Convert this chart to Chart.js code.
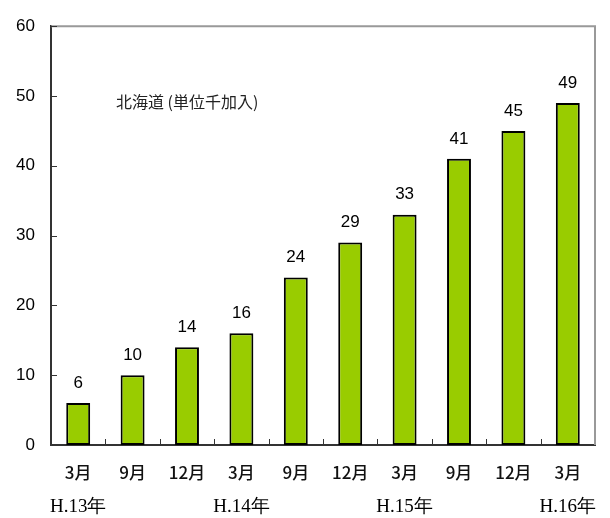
<!DOCTYPE html>
<html>
<head>
<meta charset="utf-8">
<script src="https://cdn.jsdelivr.net/npm/chart.js@4/dist/chart.umd.min.js"></script>
<style>
  body { margin: 0; background: #fff; }
  #wrap { width: 610px; height: 518px; }
</style>
</head>
<body>
<div id="wrap"><canvas id="c"></canvas></div>
<script>
const months = ['3月', '9月', '12月', '3月', '9月', '12月', '3月', '9月', '12月', '3月'];
const years = ['H.13年', '', '', 'H.14年', '', '', 'H.15年', '', '', 'H.16年'];
const subscribers = [6, 10, 14, 16, 24, 29, 33, 41, 45, 49];
const yTicks = [0, 10, 20, 30, 40, 50, 60];

// value labels, inner tick marks, frame and the note text
const extras = {
    id: 'extras',
    afterDatasetsDraw(chart) {
        const ctx = chart.ctx;
        const area = chart.chartArea;
        const x = chart.scales.x;
        const y = chart.scales.y;

        ctx.save();
        // top and right frame lines
        ctx.strokeStyle = '#999';
        ctx.lineWidth = 2;
        ctx.beginPath();
        ctx.moveTo(area.left, area.top);
        ctx.lineTo(area.right, area.top);
        ctx.lineTo(area.right, area.bottom);
        ctx.stroke();

        // inward ticks
        ctx.strokeStyle = '#333';
        ctx.lineWidth = 1;
        ctx.beginPath();
        yTicks.forEach(v => {
            const py = Math.round(y.getPixelForValue(v)) + 0.5;
            ctx.moveTo(area.left, py);
            ctx.lineTo(area.left + 6, py);
        });
        for (let i = 1; i < months.length; i++) {
            const px = Math.round((x.getPixelForValue(i - 1) + x.getPixelForValue(i)) / 2) + 0.5;
            ctx.moveTo(px, area.bottom);
            ctx.lineTo(px, area.bottom - 6);
        }
        ctx.stroke();

        // values above bars
        ctx.fillStyle = '#000';
        ctx.font = '17px "Liberation Sans", Arial, sans-serif';
        ctx.textAlign = 'center';
        ctx.textBaseline = 'middle';
        chart.getDatasetMeta(0).data.forEach((bar, i) => {
            ctx.fillText(String(subscribers[i]), bar.x, bar.y - 20);
        });

        // note
        ctx.fillStyle = '#222';
        ctx.font = '16px "Noto Sans CJK JP", sans-serif';
        ctx.textAlign = 'left';
        ctx.fillText('北海道 (単位千加入)', 116, 102);
        ctx.restore();
    }
};

new Chart(document.getElementById('c'), {
    type: 'bar',
    data: {
        labels: months,
        datasets: [{
            data: subscribers,
            backgroundColor: '#99cc00',
            borderColor: '#000',
            borderWidth: 2,
            borderSkipped: false,
            barPercentage: 0.44,
            categoryPercentage: 1
        }]
    },
    options: {
        responsive: true,
        maintainAspectRatio: false,
        animation: false,
        layout: { padding: { top: 19, right: 15, left: 0, bottom: 0 } },
        plugins: {
            legend: { display: false },
            tooltip: { enabled: false }
        },
        scales: {
            y: {
                min: 0,
                max: 60,
                afterBuildTicks: s => { s.ticks = yTicks.map(v => ({ value: v })); },
                afterFit: s => { s.width = 51; },
                grid: { display: false, drawTicks: false },
                border: { color: '#333', width: 2 },
                ticks: {
                    padding: 16,
                    color: '#000',
                    font: { family: '"Liberation Sans", Arial, sans-serif', size: 17 }
                }
            },
            x: {
                afterFit: s => { s.height = 42; },
                grid: { display: false, drawTicks: false },
                border: { color: '#333', width: 2 },
                ticks: {
                    padding: 17,
                    maxRotation: 0,
                    autoSkip: false,
                    color: '#111',
                    font: { family: '"Noto Sans CJK JP", sans-serif', size: 17, weight: '500' }
                }
            },
            year: {
                type: 'category',
                position: 'bottom',
                labels: years,
                afterFit: s => { s.height = 31; },
                grid: { display: false, drawTicks: false },
                border: { display: false },
                ticks: {
                    padding: 9,
                    maxRotation: 0,
                    autoSkip: false,
                    color: '#000',
                    font: { family: '"Liberation Serif", serif', size: 19 }
                }
            }
        }
    },
    plugins: [extras]
});
</script>
</body>
</html>
